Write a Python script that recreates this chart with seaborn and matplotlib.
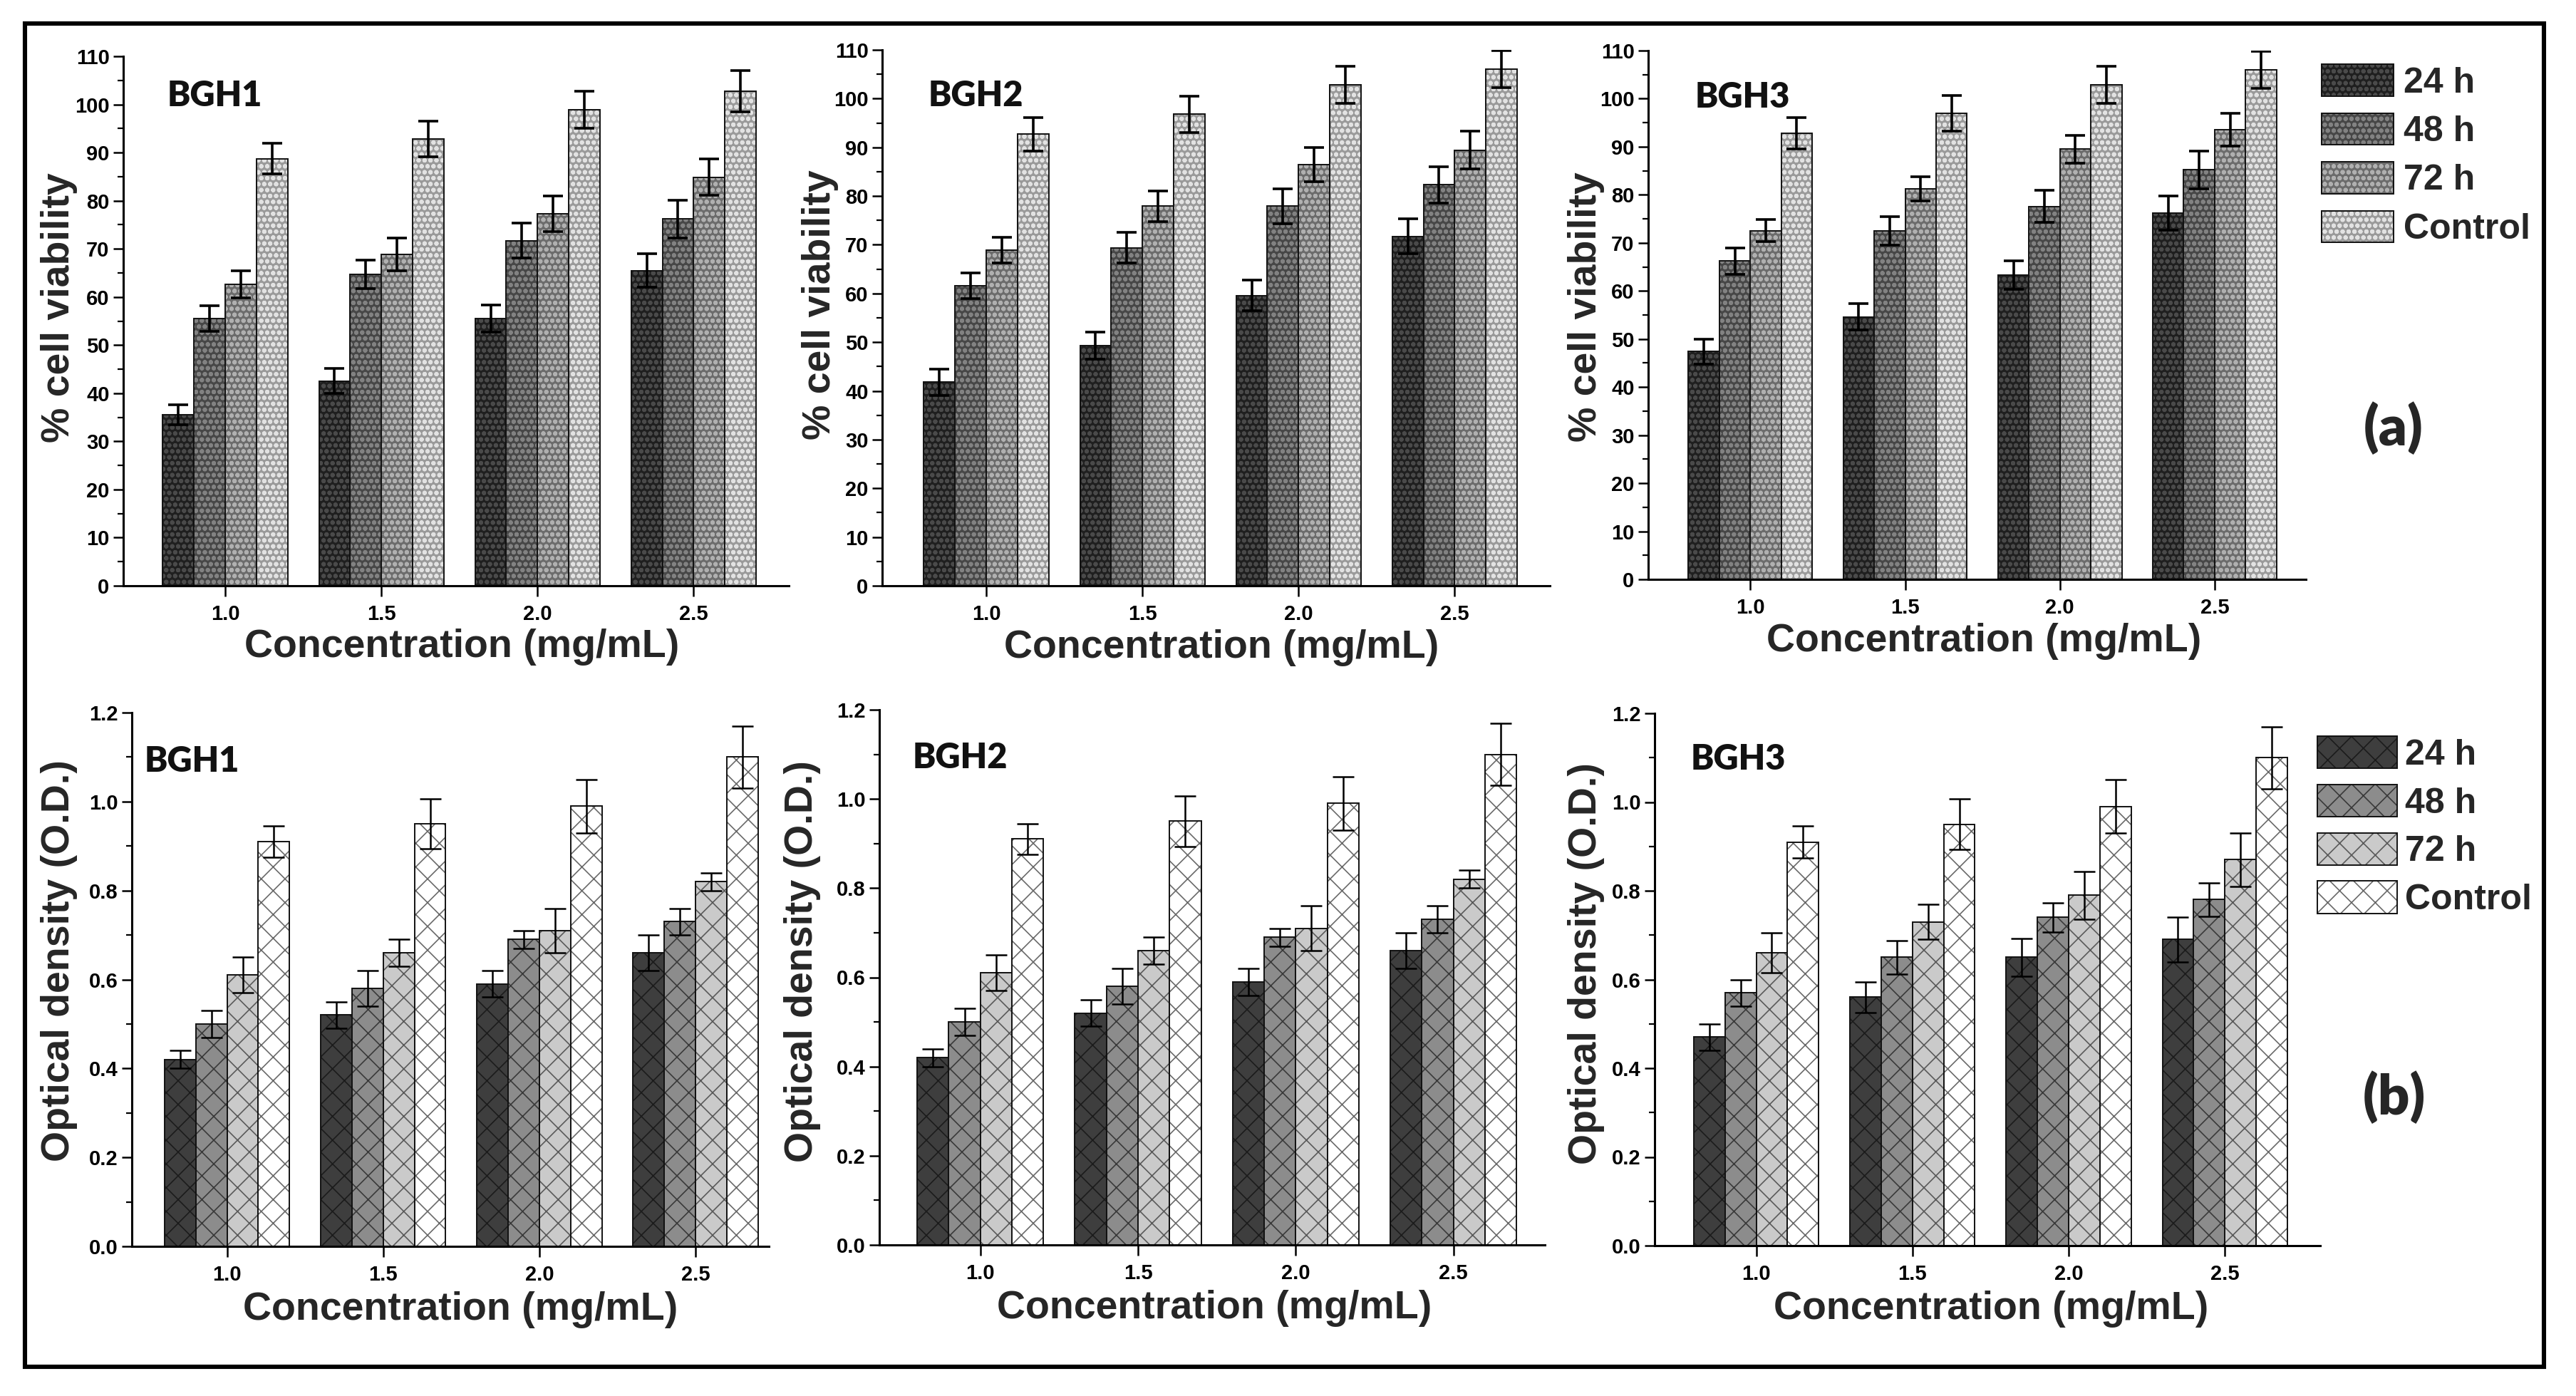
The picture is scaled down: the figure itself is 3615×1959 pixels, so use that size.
import numpy as np
import pandas as pd
import matplotlib
matplotlib.use("Agg")
import matplotlib.pyplot as plt
import matplotlib.colors as mcolors
from matplotlib.patches import Rectangle
from matplotlib.ticker import MultipleLocator, FormatStrFormatter
import seaborn as sns

# ---------------- data ----------------
conc_labels = ["1.0", "1.5", "2.0", "2.5"]
times = ["24 h", "48 h", "72 h", "Control"]

# % cell viability  (rows: 24 h, 48 h, 72 h, Control ; cols: concentrations)
viab_bgh1 = [[35.5, 42.5, 55.5, 65.5],
             [55.5, 64.7, 71.7, 76.2],
             [62.6, 68.8, 77.3, 84.9],
             [88.7, 92.8, 98.9, 102.8]]
viab_bgh1_err = [[2.1, 2.6, 2.8, 3.5],
                 [2.7, 3.0, 3.6, 3.9],
                 [2.8, 3.4, 3.7, 3.8],
                 [3.2, 3.7, 3.8, 4.3]]

viab_bgh2 = [[41.8, 49.3, 59.6, 71.7],
             [61.6, 69.4, 77.9, 82.3],
             [68.9, 77.9, 86.4, 89.4],
             [92.7, 96.8, 102.9, 106.0]]
viab_bgh2_err = [[2.7, 2.8, 3.2, 3.6],
                 [2.6, 3.2, 3.6, 3.7],
                 [2.7, 3.1, 3.5, 3.9],
                 [3.4, 3.7, 3.8, 3.8]]

viab_bgh3 = [[47.4, 54.6, 63.3, 76.2],
             [66.2, 72.5, 77.6, 85.2],
             [72.5, 81.2, 89.5, 93.6],
             [92.8, 96.9, 102.9, 106.0]]
viab_bgh3_err = [[2.6, 2.7, 3.0, 3.5],
                 [2.7, 3.0, 3.4, 3.9],
                 [2.3, 2.5, 2.9, 3.4],
                 [3.3, 3.7, 3.8, 3.9]]

# optical density
od_bgh1 = [[0.42, 0.52, 0.59, 0.66],
           [0.50, 0.58, 0.69, 0.73],
           [0.61, 0.66, 0.71, 0.82],
           [0.91, 0.95, 0.99, 1.10]]
od_bgh1_err = [[0.02, 0.03, 0.03, 0.04],
               [0.03, 0.04, 0.02, 0.03],
               [0.04, 0.03, 0.05, 0.02],
               [0.035, 0.056, 0.06, 0.07]]

od_bgh2 = [[0.42, 0.52, 0.59, 0.66],
           [0.50, 0.58, 0.69, 0.73],
           [0.61, 0.66, 0.71, 0.82],
           [0.91, 0.95, 0.99, 1.10]]
od_bgh2_err = [[0.02, 0.03, 0.03, 0.04],
               [0.03, 0.04, 0.02, 0.03],
               [0.04, 0.03, 0.05, 0.02],
               [0.035, 0.056, 0.06, 0.07]]

od_bgh3 = [[0.47, 0.56, 0.65, 0.69],
           [0.57, 0.65, 0.74, 0.78],
           [0.66, 0.73, 0.79, 0.87],
           [0.91, 0.95, 0.99, 1.10]]
od_bgh3_err = [[0.03, 0.035, 0.043, 0.05],
               [0.03, 0.038, 0.033, 0.038],
               [0.045, 0.04, 0.054, 0.06],
               [0.036, 0.057, 0.06, 0.07]]

# ---------------- style ----------------
sns.set_style("ticks")
plt.rcParams['font.family'] = ['Liberation Sans', 'DejaVu Sans']
plt.rcParams['font.weight'] = 'bold'
plt.rcParams['axes.labelweight'] = 'bold'
plt.rcParams['axes.edgecolor'] = 'black'
plt.rcParams['xtick.color'] = 'black'
plt.rcParams['ytick.color'] = 'black'

W, H, DPI = 3616, 1959, 200
fig = plt.figure(figsize=(W / DPI, H / DPI), dpi=DPI)
fig.patch.set_facecolor('white')


def rect(l, r, b, t):
    return [l / W, 1 - b / H, (r - l) / W, (b - t) / H]


top_faces = ["#1f1f1f", "#474747", "#6c6c6c", "#9a9a9a"]
top_hatch = ["#4a4a4a", "#828282", "#b0b0b0", "#e2e2e2"]
bot_faces = ["#3e3e3e", "#8c8c8c", "#cacaca", "#ffffff"]
bot_hatch = ["#1c1c1c", "#3a3a3a", "#5a5a5a", "#6a6a6a"]


def set_hatch_props(p, hatch, color, lw):
    p.set_hatch(hatch)
    if hasattr(p, "set_hatchcolor"):
        p.set_hatchcolor(color)
    else:
        p._hatch_color = mcolors.to_rgba(color)
    if hasattr(p, "set_hatch_linewidth"):
        p.set_hatch_linewidth(lw)


def panel(box, xlim, values, errs, ylim, major, minor, fmt, faces, hcols,
          hatch, hlw, ylabel, name, name_xy, ylab_xy, xlab_xy, elw, cap):
    plt.rcParams['hatch.linewidth'] = hlw
    ax = fig.add_axes(rect(*box))
    rows = []
    for i, t in enumerate(times):
        for j, c in enumerate(conc_labels):
            rows.append({"Concentration": c, "Time": t, "value": values[i][j]})
    df = pd.DataFrame(rows)
    sns.barplot(data=df, x="Concentration", y="value", hue="Time",
                order=conc_labels, hue_order=times,
                palette=dict(zip(times, faces)), saturation=1,
                edgecolor="#111111", linewidth=0.7, errorbar=None,
                width=0.8, legend=False, ax=ax)
    bars = list(ax.containers)
    for k, cont in enumerate(bars):
        for p in cont.patches:
            set_hatch_props(p, hatch, hcols[k], hlw)
        xs = [p.get_x() + p.get_width() / 2 for p in cont.patches]
        ys = [p.get_height() for p in cont.patches]
        ax.errorbar(xs, ys, yerr=errs[k], fmt="none", ecolor="black",
                    elinewidth=elw, capsize=cap, capthick=elw, zorder=4)
    ax.set_xlim(*xlim)
    ax.set_ylim(*ylim)
    ax.yaxis.set_major_locator(MultipleLocator(major))
    ax.yaxis.set_minor_locator(MultipleLocator(minor))
    ax.yaxis.set_major_formatter(FormatStrFormatter(fmt))
    sns.despine(ax=ax)
    for s in ("left", "bottom"):
        ax.spines[s].set_linewidth(1.1)
    ax.tick_params(axis="y", which="major", length=5, width=0.9,
                   labelsize=10.5, pad=2)
    ax.tick_params(axis="y", which="minor", length=2.8, width=0.8)
    ax.tick_params(axis="x", which="major", length=5.4, width=0.9,
                   labelsize=10.5, pad=4)
    ax.set_xlabel("Concentration (mg/mL)", fontsize=20, fontweight="bold")
    ax.set_ylabel(ylabel, fontsize=20, fontweight="bold")
    ax.xaxis.set_label_coords(*xlab_xy)
    ax.xaxis.label.set_va("center")
    ax.yaxis.set_label_coords(*ylab_xy)
    ax.yaxis.label.set_va("center")
    ax.text(name_xy[0], name_xy[1], name, transform=ax.transAxes,
            fontsize=17.5, fontfamily=["Lato", "DejaVu Sans"],
            fontweight="heavy", ha="left", va="center", color="#111111")
    ax.set_facecolor("white")
    return ax, bars


ax1, b1 = panel((173, 1107, 822, 79), (-0.653, 3.61), viab_bgh1, viab_bgh1_err,
                (0, 110), 10, 5, "%d", top_faces, top_hatch, "oooo", 1.0,
                "% cell viability", "BGH1", (0.066, 0.925), (-0.096, 0.525),
                (0.509, -0.116), 1.3, 5)
ax2, b2 = panel((1238, 2175, 822, 70), (-0.667, 3.61), viab_bgh2, viab_bgh2_err,
                (0, 110), 10, 5, "%d", top_faces, top_hatch, "oooo", 1.0,
                "% cell viability", "BGH2", (0.069, 0.914), (-0.093, 0.525),
                (0.508, -0.116), 1.3, 5)
ax3, b3 = panel((2313, 3236, 813, 71), (-0.66, 3.59), viab_bgh3, viab_bgh3_err,
                (0, 110), 10, 5, "%d", top_faces, top_hatch, "oooo", 1.0,
                "% cell viability", "BGH3", (0.071, 0.912), (-0.094, 0.515),
                (0.51, -0.117), 1.3, 5)

plt.rcParams['hatch.linewidth'] = 1.0
fig.legend(handles=b3, labels=times, loc="upper left",
           bbox_to_anchor=(3258 / W, 1 - 90 / H), frameon=False,
           prop={"size": 18, "weight": "bold"}, handlelength=2.02,
           handleheight=1.0, labelspacing=0.38, handletextpad=0.28,
           borderpad=0, borderaxespad=0)

ax4, b4 = panel((185, 1079, 1749, 1000), (-0.61, 3.47), od_bgh1, od_bgh1_err,
                (0, 1.2), 0.2, 0.1, "%.1f", bot_faces, bot_hatch, "xx", 0.6,
                "Optical density (O.D.)", "BGH1", (0.02, 0.908), (-0.114, 0.535),
                (0.516, -0.119), 0.9, 5.5)
ax5, b5 = panel((1234, 2168, 1747, 996), (-0.64, 3.58), od_bgh2, od_bgh2_err,
                (0, 1.2), 0.2, 0.1, "%.1f", bot_faces, bot_hatch, "xx", 0.6,
                "Optical density (O.D.)", "BGH2", (0.05, 0.91), (-0.116, 0.53),
                (0.503, -0.119), 0.9, 5.5)
ax6, b6 = panel((2322, 3256, 1748, 1001), (-0.65, 3.61), od_bgh3, od_bgh3_err,
                (0, 1.2), 0.2, 0.1, "%.1f", bot_faces, bot_hatch, "xx", 0.6,
                "Optical density (O.D.)", "BGH3", (0.054, 0.913), (-0.103, 0.53),
                (0.506, -0.119), 0.9, 5.5)

plt.rcParams['hatch.linewidth'] = 0.6
fig.legend(handles=b6, labels=times, loc="upper left",
           bbox_to_anchor=(3252 / W, 1 - 1033 / H), frameon=False,
           prop={"size": 18, "weight": "bold"}, handlelength=2.24,
           handleheight=1.02, labelspacing=0.36, handletextpad=0.22,
           borderpad=0, borderaxespad=0)

fig.text(3359 / W, 1 - 601 / H, "(a)", ha="center", va="center", fontsize=28,
         fontfamily=["Lato", "DejaVu Sans"], fontweight="heavy")
fig.text(3360 / W, 1 - 1540 / H, "(b)", ha="center", va="center", fontsize=28,
         fontfamily=["Lato", "DejaVu Sans"], fontweight="heavy")

fig.add_artist(Rectangle((35 / W, 1 - 1918 / H), (3570 - 35) / W, (1918 - 33) / H,
                         transform=fig.transFigure, fill=False, lw=2.2,
                         edgecolor="black", zorder=10))

fig.savefig("out.png", dpi=DPI, facecolor="white")
